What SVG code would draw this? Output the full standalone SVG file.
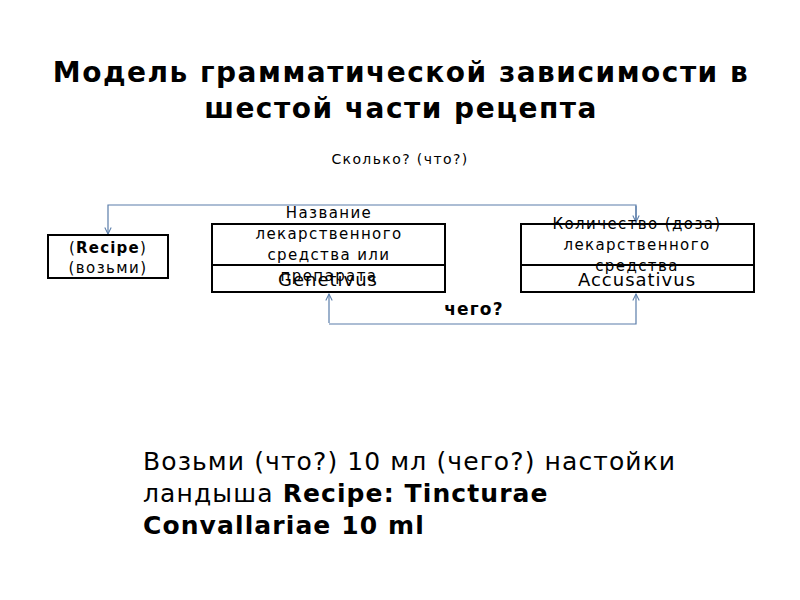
<svg xmlns="http://www.w3.org/2000/svg" width="800" height="600" viewBox="0 0 800 600">
<defs>
<marker id="ah" viewBox="0 0 10 10" refX="9" refY="5" markerWidth="8" markerHeight="8" orient="auto" markerUnits="userSpaceOnUse">
<polyline points="1,1 9,5 1,9" fill="none" stroke="#5a7daa" stroke-width="1.3"/>
</marker>
<style>
text{font-family:"DejaVu Sans","Noto Sans",sans-serif;fill:#000}
.title{font-size:28px;font-weight:bold;text-anchor:middle;letter-spacing:1.5px}
.lbl{font-size:15px;text-anchor:middle;letter-spacing:1.4px}
.big{font-size:18px;text-anchor:middle;letter-spacing:1px}
.box{fill:#fff;stroke:#000;stroke-width:2}
.con{fill:none;stroke:#5a7daa;stroke-width:1.2}
.body{font-size:25px;letter-spacing:1.1px}
</style>
</defs>
<rect width="800" height="600" fill="#fff"/>
<text class="title" x="401" y="82">Модель грамматической зависимости в</text>
<text class="title" x="401" y="118">шестой части рецепта</text>
<text class="lbl" x="400" y="164" style="font-size:14px">Сколько? (что?)</text>

<g id="connectors">
<polyline class="con" points="636,223 636,205 108,205 108,234" marker-end="url(#ah)"/>
<line class="con" x1="636" y1="206" x2="636" y2="222" marker-end="url(#ah)"/>
<polyline class="con" points="329,324 636,324 636,294" marker-end="url(#ah)"/>
<line class="con" x1="329" y1="323" x2="329" y2="294" marker-end="url(#ah)"/>
</g>

<g id="recipe">
<rect class="box" x="48" y="235" width="120" height="43"/>
<text class="lbl" x="108" y="253" style="letter-spacing:1.2px">(<tspan font-weight="bold">Recipe</tspan>)</text>
<text class="lbl" x="108" y="273">(возьми)</text>
</g>

<g id="name">
<rect class="box" x="212" y="224" width="233" height="68"/>
<line x1="212" y1="265" x2="445" y2="265" stroke="#000" stroke-width="2"/>
<text class="lbl" x="329" y="218">Название</text>
<text class="lbl" x="329" y="239">лекарственного</text>
<text class="lbl" x="329" y="260">средства или</text>
<text class="lbl" x="329" y="281">препарата</text>
<text class="big" x="328" y="286">Genetivus</text>
</g>

<g id="quantity">
<rect class="box" x="521" y="224" width="233" height="68"/>
<line x1="521" y1="265" x2="754" y2="265" stroke="#000" stroke-width="2"/>
<text class="lbl" x="637" y="229">Количество (доза)</text>
<text class="lbl" x="637" y="250">лекарственного</text>
<text class="lbl" x="637" y="271">средства</text>
<text class="big" x="637" y="286">Accusativus</text>
</g>

<text x="474" y="315" style="font-size:17px;font-weight:bold;text-anchor:middle;letter-spacing:1.2px">чего?</text>

<g id="bottom">
<text class="body" x="143" y="470">Возьми (что?) 10 мл (чего?) настойки</text>
<text class="body" x="143" y="502">ландыша <tspan font-weight="bold">Recipe: Tincturae</tspan></text>
<text class="body" x="143" y="534" font-weight="bold">Convallariae 10 ml</text>
</g>
</svg>
